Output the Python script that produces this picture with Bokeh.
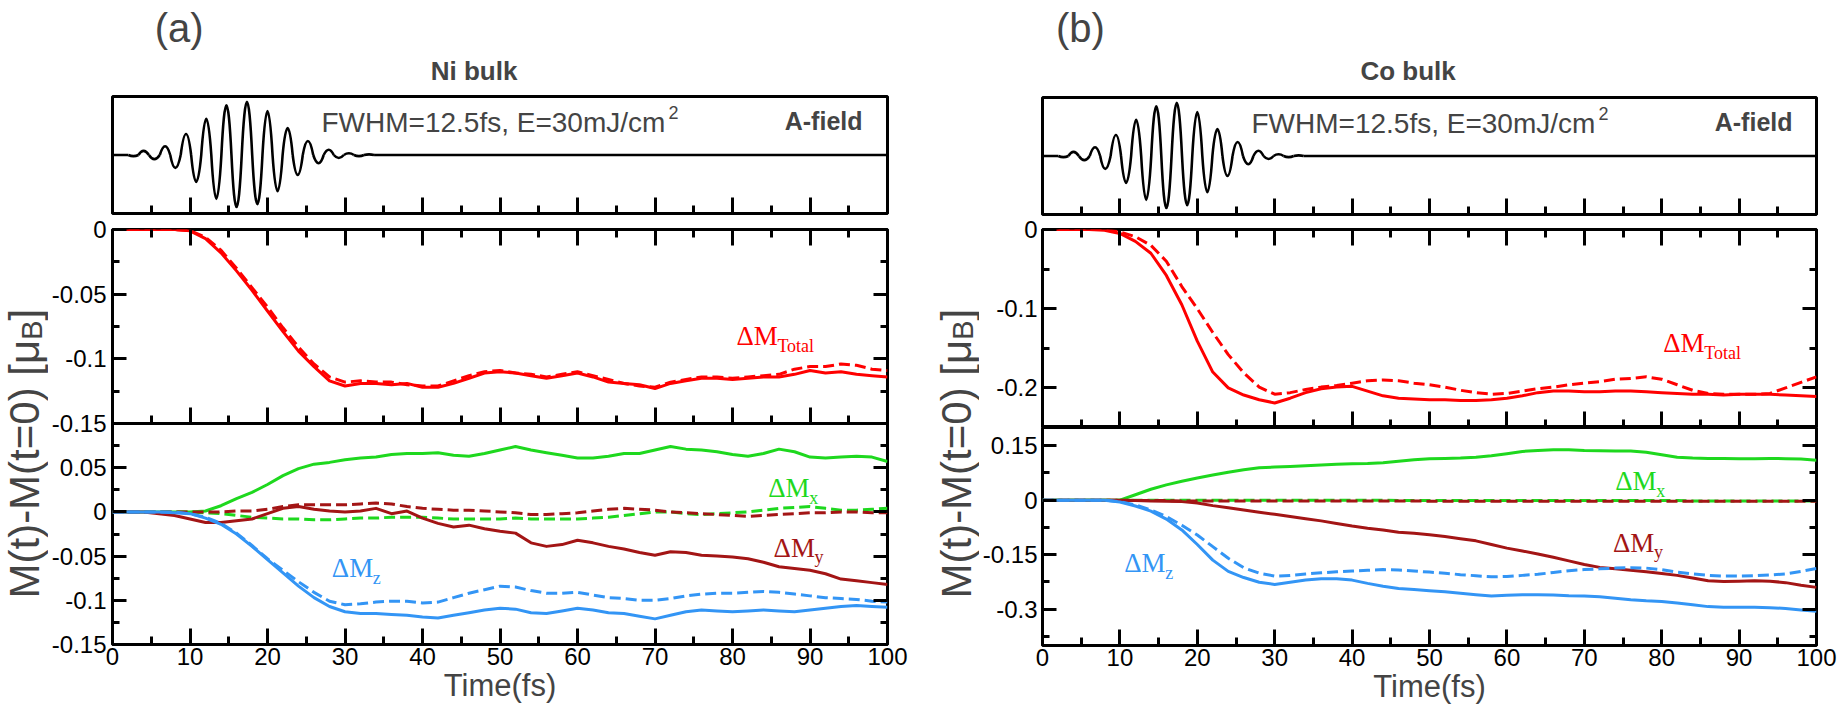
import math
from bokeh.plotting import figure
from bokeh.models import Range1d, LinearAxis, FixedTicker, Label, CustomJSTickFormatter
from bokeh.layouts import row, column
from bokeh.embed import file_html
from bokeh.resources import INLINE

# ---------------- data ----------------
time_fs = list(range(0, 101, 2))

# Ni bulk : Delta M_Total (solid / dashed)
ni_total = [0, 0, 0, 0, 0, -0.001, -0.007, -0.018, -0.032, -0.047,
            -0.063, -0.079, -0.094, -0.106, -0.117, -0.121, -0.119, -0.119, -0.120, -0.119,
            -0.122, -0.122, -0.119, -0.115, -0.111, -0.110, -0.111, -0.113, -0.115, -0.113,
            -0.111, -0.114, -0.118, -0.119, -0.120, -0.123, -0.119, -0.117, -0.115, -0.115,
            -0.116, -0.115, -0.114, -0.114, -0.112, -0.109, -0.111, -0.110, -0.112, -0.113, -0.114]
ni_total_d = [0, 0, 0, 0, 0, -0.001, -0.006, -0.016, -0.030, -0.045,
              -0.060, -0.076, -0.091, -0.104, -0.114, -0.118, -0.117, -0.118, -0.118, -0.120,
              -0.121, -0.121, -0.117, -0.113, -0.110, -0.109, -0.111, -0.112, -0.114, -0.112,
              -0.110, -0.113, -0.116, -0.119, -0.121, -0.122, -0.118, -0.116, -0.114, -0.114,
              -0.115, -0.114, -0.113, -0.112, -0.108, -0.106, -0.106, -0.104, -0.105, -0.108, -0.109]
# Ni bulk : components
ni_mx = [0, 0, 0, 0, 0, 0, 0.001, 0.007, 0.015, 0.022,
         0.031, 0.041, 0.049, 0.054, 0.056, 0.059, 0.061, 0.062, 0.065, 0.066,
         0.066, 0.067, 0.064, 0.063, 0.066, 0.070, 0.074, 0.070, 0.067, 0.064,
         0.061, 0.061, 0.063, 0.066, 0.066, 0.070, 0.074, 0.071, 0.070, 0.068,
         0.065, 0.063, 0.066, 0.071, 0.068, 0.062, 0.061, 0.062, 0.063, 0.062, 0.057]
ni_mx_d = [0, 0, 0, 0, 0, 0, -0.001, -0.002, -0.004, -0.006,
           -0.007, -0.008, -0.008, -0.009, -0.009, -0.008, -0.007, -0.007, -0.006, -0.006,
           -0.006, -0.007, -0.008, -0.008, -0.008, -0.008, -0.007, -0.008, -0.008, -0.008,
           -0.008, -0.007, -0.006, -0.004, -0.002, 0.000, 0.000, -0.002, -0.003, -0.002,
           -0.001, 0.000, 0.002, 0.004, 0.005, 0.006, 0.004, 0.002, 0.002, 0.003, 0.004]
ni_my = [0, 0, 0, -0.002, -0.004, -0.008, -0.012, -0.012, -0.010, -0.008,
         -0.002, 0.004, 0.006, 0.003, 0.001, 0.000, 0.001, 0.004, -0.002, 0.001,
         -0.007, -0.013, -0.017, -0.015, -0.019, -0.022, -0.024, -0.035, -0.039, -0.037,
         -0.032, -0.035, -0.039, -0.042, -0.046, -0.049, -0.045, -0.046, -0.049, -0.050,
         -0.051, -0.053, -0.057, -0.062, -0.064, -0.066, -0.070, -0.076, -0.078, -0.080, -0.082]
ni_my_d = [0, 0, 0, 0, 0, 0, 0, 0, 0.001, 0.001,
           0.003, 0.006, 0.008, 0.008, 0.008, 0.008, 0.009, 0.010, 0.009, 0.006,
           0.004, 0.003, 0.002, 0.002, 0.001, 0.000, -0.001, -0.003, -0.003, -0.002,
           -0.001, 0.001, 0.003, 0.004, 0.003, 0.002, 0.000, -0.001, -0.002, -0.003,
           -0.004, -0.005, -0.004, -0.003, -0.002, -0.001, -0.001, 0.000, 0.000, -0.001, -0.001]
ni_mz = [0, 0, 0, 0, -0.001, -0.002, -0.007, -0.014, -0.025, -0.039,
         -0.054, -0.069, -0.084, -0.097, -0.107, -0.113, -0.115, -0.115, -0.116, -0.117,
         -0.119, -0.120, -0.117, -0.114, -0.111, -0.109, -0.110, -0.114, -0.115, -0.112,
         -0.109, -0.111, -0.114, -0.115, -0.118, -0.121, -0.117, -0.113, -0.111, -0.112,
         -0.113, -0.112, -0.111, -0.112, -0.113, -0.111, -0.109, -0.107, -0.106, -0.107, -0.108]
ni_mz_d = [0, 0, 0, 0, 0, -0.002, -0.006, -0.013, -0.024, -0.038,
           -0.053, -0.066, -0.079, -0.091, -0.101, -0.105, -0.104, -0.102, -0.101, -0.101,
           -0.103, -0.102, -0.097, -0.092, -0.088, -0.084, -0.085, -0.089, -0.092, -0.092,
           -0.091, -0.094, -0.097, -0.098, -0.100, -0.100, -0.098, -0.095, -0.093, -0.092,
           -0.092, -0.091, -0.090, -0.091, -0.093, -0.095, -0.097, -0.098, -0.099, -0.101, -0.102]

# Co bulk : Delta M_Total
co_total = [0, 0, 0, 0, -0.001, -0.005, -0.015, -0.030, -0.058, -0.095,
            -0.141, -0.180, -0.200, -0.209, -0.215, -0.219, -0.213, -0.206, -0.201, -0.199,
            -0.198, -0.204, -0.210, -0.213, -0.214, -0.215, -0.215, -0.216, -0.216, -0.215,
            -0.213, -0.210, -0.206, -0.204, -0.204, -0.205, -0.205, -0.204, -0.204, -0.205,
            -0.206, -0.207, -0.208, -0.208, -0.209, -0.208, -0.208, -0.208, -0.209, -0.210, -0.211]
co_total_d = [0, 0, 0, 0, 0, -0.003, -0.009, -0.020, -0.040, -0.072,
              -0.100, -0.130, -0.158, -0.181, -0.199, -0.208, -0.206, -0.202, -0.199, -0.197,
              -0.194, -0.191, -0.190, -0.191, -0.194, -0.196, -0.199, -0.203, -0.206, -0.208,
              -0.207, -0.204, -0.201, -0.199, -0.196, -0.194, -0.192, -0.189, -0.188, -0.186,
              -0.189, -0.196, -0.203, -0.207, -0.208, -0.208, -0.208, -0.207, -0.200, -0.193, -0.186]
# Co bulk : components
co_mx = [0, 0, 0, 0, 0, 0, 0.015, 0.030, 0.042, 0.052,
         0.061, 0.069, 0.077, 0.084, 0.089, 0.091, 0.093, 0.095, 0.097, 0.099,
         0.100, 0.101, 0.103, 0.107, 0.111, 0.114, 0.115, 0.116, 0.118, 0.122,
         0.128, 0.134, 0.137, 0.139, 0.139, 0.137, 0.136, 0.135, 0.135, 0.132,
         0.125, 0.118, 0.116, 0.115, 0.115, 0.114, 0.114, 0.115, 0.114, 0.113, 0.110]
co_mx_d = [0, 0, 0, 0, 0, 0, 0, 0, 0, 0,
           0, 0, 0, 0, 0, 0, 0, 0, 0, 0,
           0, 0, 0, -0.001, -0.001, -0.001, -0.001, -0.001, -0.001, -0.001,
           -0.001, -0.001, -0.001, -0.001, -0.001, -0.001, -0.001, -0.001, -0.001, -0.001,
           -0.001, -0.001, -0.002, -0.002, -0.002, -0.002, -0.002, -0.002, -0.002, -0.002, -0.002]
co_my = [0, 0, 0, 0, 0, 0, -0.001, -0.002, -0.003, -0.004,
         -0.008, -0.015, -0.021, -0.027, -0.033, -0.039, -0.045, -0.051, -0.057, -0.064,
         -0.071, -0.077, -0.082, -0.088, -0.091, -0.095, -0.100, -0.106, -0.112, -0.122,
         -0.132, -0.140, -0.148, -0.157, -0.167, -0.177, -0.185, -0.189, -0.193, -0.197,
         -0.202, -0.207, -0.214, -0.222, -0.224, -0.223, -0.222, -0.223, -0.227, -0.234, -0.240]
co_my_d = [0, 0, 0, 0, 0, 0, -0.001, -0.001, -0.001, -0.002,
           -0.002, -0.002, -0.002, -0.002, -0.002, -0.002, -0.002, -0.002, -0.002, -0.002,
           -0.002, -0.002, -0.002, -0.002, -0.002, -0.003, -0.003, -0.003, -0.003, -0.003,
           -0.003, -0.003, -0.003, -0.003, -0.003, -0.003, -0.003, -0.003, -0.003, -0.003,
           -0.003, -0.003, -0.003, -0.003, -0.003, -0.003, -0.003, -0.003, -0.003, -0.003, -0.003]
co_mz = [0, 0, 0, 0, 0, -0.005, -0.016, -0.030, -0.052, -0.082,
         -0.122, -0.165, -0.196, -0.213, -0.226, -0.232, -0.226, -0.220, -0.216, -0.216,
         -0.220, -0.229, -0.237, -0.243, -0.246, -0.249, -0.252, -0.256, -0.260, -0.264,
         -0.262, -0.260, -0.260, -0.261, -0.263, -0.264, -0.266, -0.270, -0.274, -0.277,
         -0.279, -0.283, -0.288, -0.293, -0.295, -0.295, -0.295, -0.296, -0.298, -0.302, -0.306]
co_mz_d = [0, 0, 0, 0, 0, -0.004, -0.013, -0.027, -0.045, -0.069,
           -0.096, -0.128, -0.160, -0.186, -0.201, -0.209, -0.207, -0.203, -0.200, -0.197,
           -0.195, -0.193, -0.191, -0.192, -0.195, -0.198, -0.201, -0.205, -0.208, -0.211,
           -0.210, -0.207, -0.204, -0.199, -0.194, -0.191, -0.189, -0.187, -0.186, -0.187,
           -0.191, -0.198, -0.203, -0.207, -0.209, -0.209, -0.208, -0.206, -0.203, -0.196, -0.188]

# A-field laser pulse (same in both panels): times of the extrema and their values (arb. units)
afield_ext_t = [2.7, 4.0, 5.4, 6.8, 8.1, 9.5, 10.8, 12.1, 13.4, 14.7, 16.0, 17.35,
                18.7, 20.0, 21.3, 22.6, 23.9, 25.2, 26.6, 27.9, 29.2, 30.5, 31.8, 33.1]
afield_ext_a = [-0.02, 0.07, -0.07, 0.15, -0.22, 0.36, -0.46, 0.62, -0.75, 0.85, -0.89, 0.91,
                -0.84, 0.75, -0.62, 0.46, -0.34, 0.24, -0.14, 0.09, -0.05, 0.03, -0.02, 0.01]

# ticks
x_major = [0, 10, 20, 30, 40, 50, 60, 70, 80, 90, 100]
x_minor = [5, 15, 25, 35, 45, 55, 65, 75, 85, 95]
x_labels = ["0", "10", "20", "30", "40", "50", "60", "70", "80", "90", "100"]

ni_mid_ticks = [0, -0.05, -0.1, -0.15]
ni_mid_minor = [-0.025, -0.075, -0.125]
ni_mid_labels = ["0", "-0.05", "-0.1", "-0.15"]
ni_bot_ticks = [0.1, 0.05, 0, -0.05, -0.1, -0.15]
ni_bot_minor = [0.075, 0.025, -0.025, -0.075, -0.125]
ni_bot_labels = ["", "0.05", "0", "-0.05", "-0.1", "-0.15"]
co_mid_ticks = [0, -0.1, -0.2]
co_mid_minor = [-0.05, -0.15, -0.25]
co_mid_labels = ["0", "-0.1", "-0.2"]
co_bot_ticks = [0.15, 0, -0.15, -0.3]
co_bot_minor = [0.075, -0.075, -0.225, -0.375]
co_bot_labels = ["0.15", "0", "-0.15", "-0.3"]

# ---------------- style ----------------
RED = "#ff0000"
GREEN = "#1ed81e"
MAROON = "#a31515"
BLUE = "#3395f5"
LW = 3
DASH = "11 5"
SANS = "Liberation Sans"
SERIF = "Liberation Serif"
EMPTY = CustomJSTickFormatter(code="return ''")
TICK_PX = "24px"


def style_axis(ax, ticks, minor, major_len, minor_len, labels=None, standoff=6):
    ax.ticker = FixedTicker(ticks=ticks, minor_ticks=minor)
    ax.axis_line_color = None
    ax.major_tick_in = major_len
    ax.major_tick_out = 0
    ax.minor_tick_in = minor_len
    ax.minor_tick_out = 0
    ax.major_tick_line_width = 3
    ax.minor_tick_line_width = 3
    ax.major_tick_line_color = "black"
    ax.minor_tick_line_color = "black"
    ax.formatter = EMPTY
    if labels is None:
        ax.major_label_text_font_size = "0px"
        ax.major_label_standoff = 0
    else:
        ax.major_label_overrides = {t: s for t, s in zip(ticks, labels)}
        ax.major_label_text_font = SANS
        ax.major_label_text_font_size = TICK_PX
        ax.major_label_text_color = "black"
        ax.major_label_standoff = standoff


def base_fig(width, height, yr, bl, br, bt, bb, **kw):
    p = figure(width=width, height=height, x_range=Range1d(0, 100), y_range=Range1d(*yr),
               toolbar_location=None, output_backend="svg", title=None,
               min_border_left=bl, min_border_right=br, min_border_top=bt, min_border_bottom=bb,
               **kw)
    p.xgrid.visible = False
    p.ygrid.visible = False
    p.outline_line_color = "black"
    p.outline_line_width = 3
    return p


def pixel_fig(width, height, xr=None, bl=0, br=0):
    f = figure(width=width, height=height, x_range=Range1d(*(xr or (0, width))),
               y_range=Range1d(0, height), toolbar_location=None, output_backend="svg",
               title=None, min_border=0, min_border_left=bl, min_border_right=br,
               x_axis_location=None, y_axis_location=None)
    f.outline_line_color = None
    f.xgrid.visible = False
    f.ygrid.visible = False
    return f


def make_header(width, height, frame_x, bl, br, tag, tag_x, title, title_x):
    # frame of the header is aligned with the panels below: x range given in window pixels
    f = pixel_fig(width, height, frame_x, bl, br)
    f.add_layout(Label(x=tag_x, y=height - 27, text=tag, text_font=SANS, text_font_size="40px",
                       text_align="center", text_baseline="middle"))
    f.add_layout(Label(x=title_x, y=height - 70, text=title, text_font=SANS, text_font_size="26px",
                       text_font_style="bold", text_align="center", text_baseline="middle"))
    return f


def make_top(width, bl, br):
    frame_h = 117
    p = base_fig(width, frame_h + 4, (-1, 1), bl, br, 2, 2, x_axis_location="below", y_axis_location=None)
    style_axis(p.xaxis[0], x_major, x_minor, 16, 8)
    n = len(afield_ext_t)
    half = (afield_ext_t[1] - afield_ext_t[0]) / 2
    zeros = [afield_ext_t[0] - half] + [(a + b) / 2 for a, b in zip(afield_ext_t[:-1], afield_ext_t[1:])] \
        + [afield_ext_t[-1] + half]
    p.quadratic(x0=zeros[:-1], y0=[0] * n, x1=zeros[1:], y1=[0] * n,
                cx=afield_ext_t, cy=[2 * a for a in afield_ext_a], line_color="black", line_width=2.6)
    p.line([x_major[0], zeros[0]], [0, 0], line_color="black", line_width=2.6)
    p.line([zeros[-1], x_major[-1]], [0, 0], line_color="black", line_width=2.6)
    p.add_layout(Label(x=209, y=frame_h - 26, x_units="screen", y_units="screen",
                       text="FWHM=12.5fs, E=30mJ/cm", text_font=SANS, text_font_size="28px",
                       text_align="left", text_baseline="middle"))
    p.add_layout(Label(x=556, y=frame_h - 16, x_units="screen", y_units="screen", text="2",
                       text_font=SANS, text_font_size="18px", text_align="left", text_baseline="middle"))
    p.add_layout(Label(x=750, y=frame_h - 24, x_units="screen", y_units="screen", text="A-field",
                       text_font=SANS, text_font_size="25px", text_font_style="bold",
                       text_align="right", text_baseline="middle"))
    return p


def add_mid_axes(p, yt, ym, yl, standoff):
    style_axis(p.yaxis[0], yt, ym, 14, 7, yl, standoff)
    style_axis(p.xaxis[0], x_major, x_minor, 16, 8)
    ax_top = LinearAxis()
    p.add_layout(ax_top, "above")
    style_axis(ax_top, x_major, x_minor, 16, 8)
    ax_r = LinearAxis()
    p.add_layout(ax_r, "right")
    style_axis(ax_r, yt, ym, 14, 7)


def add_bot_axes(p, yt, ym, yl, standoff):
    style_axis(p.yaxis[0], yt, ym, 14, 7, yl, standoff)
    style_axis(p.xaxis[0], x_major, x_minor, 16, 8, x_labels, standoff=3)
    p.xaxis[0].axis_label = "Time(fs)"
    p.xaxis[0].axis_label_text_font = SANS
    p.xaxis[0].axis_label_text_font_size = "31px"
    p.xaxis[0].axis_label_text_font_style = "normal"
    p.xaxis[0].axis_label_standoff = 0
    ax_r = LinearAxis()
    p.add_layout(ax_r, "right")
    style_axis(ax_r, yt, ym, 14, 7)


def dm_label(p, x, y, sub, color, sub_dy=-10):
    p.add_layout(Label(x=x, y=y, text="ΔM", text_color=color, text_font=SERIF,
                       text_font_size="27px", text_align="left", text_baseline="alphabetic"))
    p.add_layout(Label(x=x, y=y, x_offset=41, y_offset=sub_dy, text=sub, text_color=color,
                       text_font=SERIF, text_font_size="18px", text_align="left",
                       text_baseline="alphabetic"))


def draw_pair(p, y_solid, y_dash, color, dash_offset=0):
    p.line(time_fs, y_solid, line_color=color, line_width=LW, line_join="round")
    p.line(time_fs, y_dash, line_color=color, line_width=LW, line_dash=DASH,
           line_dash_offset=dash_offset)


def ylabel_fig(width, xc, y_bottom, font_px):
    f = pixel_fig(width, 714)
    main = "M(t)-M(t=0)\u00a0[μ"
    w_main = 6.159 * font_px          # advance width of the main part (Arial metrics)
    sub_px = round(font_px * 0.68)
    w_sub = 0.667 * sub_px
    y0 = 714 - y_bottom
    f.add_layout(Label(x=xc, y=y0, text=main, angle=math.pi / 2, text_font=SANS,
                       text_font_size=f"{font_px}px", text_align="left", text_baseline="middle"))
    f.add_layout(Label(x=xc + 0.17 * font_px, y=y0 + w_main, text="B", angle=math.pi / 2,
                       text_font=SANS, text_font_size=f"{sub_px}px", text_align="left",
                       text_baseline="middle"))
    f.add_layout(Label(x=xc, y=y0 + w_main + w_sub, text="]", angle=math.pi / 2, text_font=SANS,
                       text_font_size=f"{font_px}px", text_align="left", text_baseline="middle"))
    return f


# ---------------- panel (a) Ni ----------------
LAB_A_W = 48
WA = 884            # frame 109..887
A_BL, A_BR = 61, 45
headA = make_header(WA, 94, (109, 887), A_BL, A_BR, "(a)", 176, "Ni bulk", 472)
topA = make_top(WA, A_BL, A_BR)

midA = base_fig(WA, 222, (-0.15, 0), A_BL, A_BR, 14, 14)
add_mid_axes(midA, ni_mid_ticks, ni_mid_minor, ni_mid_labels, 6)
draw_pair(midA, ni_total, ni_total_d, RED)
dm_label(midA, 80.5, -0.082, "Total", RED)

botA = base_fig(WA, 291, (-0.15, 0.1), A_BL, A_BR, 0, 70, margin=(-14, 0, 0, 0))
botA.background_fill_alpha = 0
botA.border_fill_alpha = 0
add_bot_axes(botA, ni_bot_ticks, ni_bot_minor, ni_bot_labels, 6)
draw_pair(botA, ni_mx, ni_mx_d, GREEN)
draw_pair(botA, ni_my, ni_my_d, MAROON)
draw_pair(botA, ni_mz, ni_mz_d, BLUE)
dm_label(botA, 84.6, 0.027, "x", GREEN)
dm_label(botA, 85.3, -0.041, "y", MAROON, -9)
dm_label(botA, 28.3, -0.064, "z", BLUE)

# ---------------- panel (b) Co ----------------
LAB_B_X = 932
LAB_B_W = 47
COL_B_X = LAB_B_X + LAB_B_W   # 979
WB = 1843 - COL_B_X           # frame 1039..1816
B_BL, B_BR = 60, 27
headB = make_header(WB, 95, (1039, 1816), B_BL, B_BR, "(b)", 1077, "Co bulk", 1406)
topB = make_top(WB, B_BL, B_BR)

midB = base_fig(WB, 211, (-0.25, 0), B_BL, B_BR, 13, 0)
add_mid_axes(midB, co_mid_ticks, co_mid_minor, co_mid_labels, 5)
draw_pair(midB, co_total, co_total_d, RED)
dm_label(midB, 80.2, -0.143, "Total", RED)

botB = base_fig(WB, 287, (-0.4, 0.2), B_BL, B_BR, 0, 69)
add_bot_axes(botB, co_bot_ticks, co_bot_minor, co_bot_labels, 5)
draw_pair(botB, co_mx, co_mx_d, GREEN, 7)
draw_pair(botB, co_my, co_my_d, MAROON)
draw_pair(botB, co_mz, co_mz_d, BLUE)
dm_label(botB, 74.0, 0.052, "x", GREEN)
dm_label(botB, 73.7, -0.118, "y", MAROON, -9)
dm_label(botB, 10.55, -0.174, "z", BLUE)

labA = ylabel_fig(LAB_A_W, 24, 598, 42)
labB = ylabel_fig(LAB_B_W, 23.5, 598, 42)

layout = row(labA, column(headA, topA, midA, botA), labB, column(headB, topB, midB, botB))

open("out.html", "w").write(file_html(layout, INLINE))
